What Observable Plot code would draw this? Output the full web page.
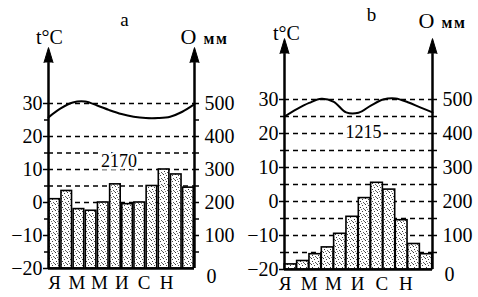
<!DOCTYPE html>
<html><head><meta charset="utf-8">
<script src="https://cdn.jsdelivr.net/npm/d3@7"></script>
<script src="https://cdn.jsdelivr.net/npm/@observablehq/plot@0.6"></script>
<style>
body{margin:0;background:#fff;}
#wrap{position:relative;width:478px;height:297px;overflow:hidden;background:#fff;}
#wrap svg{position:absolute;top:0;}
#wrap svg text{font-family:"Liberation Serif","DejaVu Serif","Times New Roman",serif !important;}
</style></head><body><div id="wrap"></div>
<script>
// ---- data ----
const monthLabels = ["Я","М","М","И","С","Н"];
const tempTicks = [-20,-10,0,10,20,30];
const precipTicks = [100,200,300,400,500];
const precipMinorTicks = [50,150,250,350,450];
const precipA = [210,235,180,175,200,255,195,200,250,300,285,245];
const precipB = [15,25,45,65,105,155,210,255,235,145,75,45];
// temperature curve readings at month boundaries (Jan start .. Dec end)
const tempA = [25.8,28.5,30.3,30.6,29.4,28,26.8,26,25.6,25.6,26,27.5,29.8];
const tempB = [25,27.2,29,30.2,29.3,26.2,26.1,28.2,30,30.3,29.2,27.7,26.2];
const totalA = "2170";
const totalB = "1215";
const gridA = [200,250,300,350,400,500];
const gridB = [50,100,150,200,250,300,350,400,450,500];

const p2t = p => -20 + p / 10;
const FONT = "Liberation Serif";

function addPattern(svg, id) {
  const ns = "http://www.w3.org/2000/svg";
  const defs = document.createElementNS(ns, "defs");
  defs.innerHTML = `<pattern id="${id}" width="6" height="6" patternUnits="userSpaceOnUse">
    <rect width="6" height="6" fill="#fff"/>
    <rect x="1" y="0" width="1" height="1" fill="#333"/>
    <rect x="4" y="1" width="1" height="1" fill="#444"/>
    <rect x="2" y="3" width="1" height="1" fill="#333"/>
    <rect x="5" y="4" width="1" height="1" fill="#555"/>
    <rect x="0" y="5" width="1" height="1" fill="#666"/>
    <rect x="3" y="5" width="1" height="1" fill="#777"/>
  </pattern>`;
  svg.insertBefore(defs, svg.firstChild);
}

function panel(o) {
  const bars = o.precip.map((p, i) => ({i, p}));
  const curve = o.temp.map((t, k) => ({k, t}));
  const labels = monthLabels.map((m, i) => ({m, x: o.labelStart + i * o.labelStep}));
  const svg = Plot.plot({
    width: o.width, height: 297,
    marginLeft: o.ml, marginRight: o.mr, marginTop: o.mt, marginBottom: o.mb,
    style: {fontFamily: FONT, fontSize: "20px", color: "#000", background: "transparent"},
    x: {domain: [0, 12], axis: null},
    y: {domain: [-20, 30], axis: null},
    marks: [
      Plot.ruleY(o.grid.map(p2t), {x1: 0, x2: 12, stroke: "#000", strokeWidth: 1.3, strokeDasharray: "5,4"}),
      Plot.rectY(bars, {x1: d => d.i, x2: d => d.i + 1, y1: -20, y2: d => p2t(d.p),
        fill: `url(#${o.pid})`, stroke: "#000", strokeWidth: 1.6, insetLeft: o.inset, insetRight: o.inset}),
      Plot.ruleY([-20], {x1: 0, x2: 12, stroke: "#000", strokeWidth: 2.5}),
      Plot.line(curve, {x: "k", y: "t", curve: "catmull-rom", stroke: "#000", strokeWidth: 2}),
      Plot.ruleX([0, 12], {y1: -20, y2: o.top, stroke: "#000", strokeWidth: 2.5}),
      Plot.vector([0, 12], {x: d => d, y: o.top, length: 15, r: 4.5, shape: "spike", anchor: "start", fill: "#000", stroke: "#000", strokeWidth: 1}),
      Plot.axisY({anchor: "left", label: null, ticks: tempTicks, tickSize: 5, tickPadding: 1, fontSize: 20, fontFamily: FONT, strokeWidth: 1.5}),
      Plot.axisY({anchor: "left", label: null, ticks: [-15,-5,5,15,25], tickSize: 4, tickFormat: () => "", strokeWidth: 1.5}),
      Plot.axisY({anchor: "right", label: null, ticks: precipTicks.map(p2t), tickSize: 4, tickPadding: 6, tickFormat: t => String(Math.round((t + 20) * 10)), fontSize: 20, fontFamily: FONT, strokeWidth: 1.5}),
      Plot.axisY({anchor: "right", label: null, ticks: precipMinorTicks.map(p2t), tickSize: 4, tickFormat: () => "", strokeWidth: 1.5}),
      Plot.text(["0"], {x: 12, y: -20, dx: 17, dy: o.zeroDy, fontSize: 20, fontFamily: FONT, textAnchor: "middle"}),
      Plot.text(labels, {x: "x", y: -20, text: "m", dy: 14, fontSize: 19, fontFamily: FONT, textAnchor: "middle"}),
      Plot.text([o.total], {x: o.totalX, y: o.totalY, fontSize: 18, fontFamily: FONT, stroke: "#fff", strokeWidth: 5, fill: "#000"}),
      Plot.text(["t°C"], {x: 0, y: o.top, dx: o.tdx, dy: o.hdyL, fontSize: 20, fontFamily: FONT, lineAnchor: "bottom"}),
      Plot.text(["O"], {x: 12, y: o.top, dx: -6, dy: o.hdyR, fontSize: 22, fontFamily: FONT, lineAnchor: "bottom"}),
      Plot.text(["мм"], {x: 12, y: o.top, dx: 9, dy: o.hdyR, fontSize: 16, fontWeight: "bold", fontFamily: FONT, textAnchor: "start", lineAnchor: "bottom"}),
      Plot.text([o.title], {x: o.titleX, y: o.top, dy: o.titleDy, fontSize: 19, fontFamily: FONT, lineAnchor: "bottom"})
    ]
  });
  svg.style.left = o.left + "px";
  addPattern(svg, o.pid);
  d3.select(svg).selectAll("text").filter(function () { return this.textContent === "мм"; })
    .attr("letter-spacing", 1.5);
  document.getElementById("wrap").appendChild(svg);
}

panel({precip: precipA, temp: tempA, total: totalA, grid: gridA, title: "a",
  width: 239, left: 0, ml: 48, mr: 45, mt: 103, mb: 29, top: 42.4,
  labelStart: 0.5, labelStep: 1.84, inset: 0.8, pid: "stA",
  totalX: 5.8, totalY: 12.5, tdx: 1, hdyL: -19, hdyR: -19, titleX: 6.25, titleDy: -37, zeroDy: 8});
panel({precip: precipB, temp: tempB, total: totalB, grid: gridB, title: "b",
  width: 240, left: 238, ml: 46, mr: 46, mt: 99, mb: 28, top: 43.5,
  labelStart: 0.05, labelStep: 1.96, inset: 0.3, pid: "stB",
  totalX: 6.4, totalY: 20.5, tdx: 2, hdyL: -14, hdyR: -26, titleX: 7.05, titleDy: -33, zeroDy: 5});
</script></body></html>
